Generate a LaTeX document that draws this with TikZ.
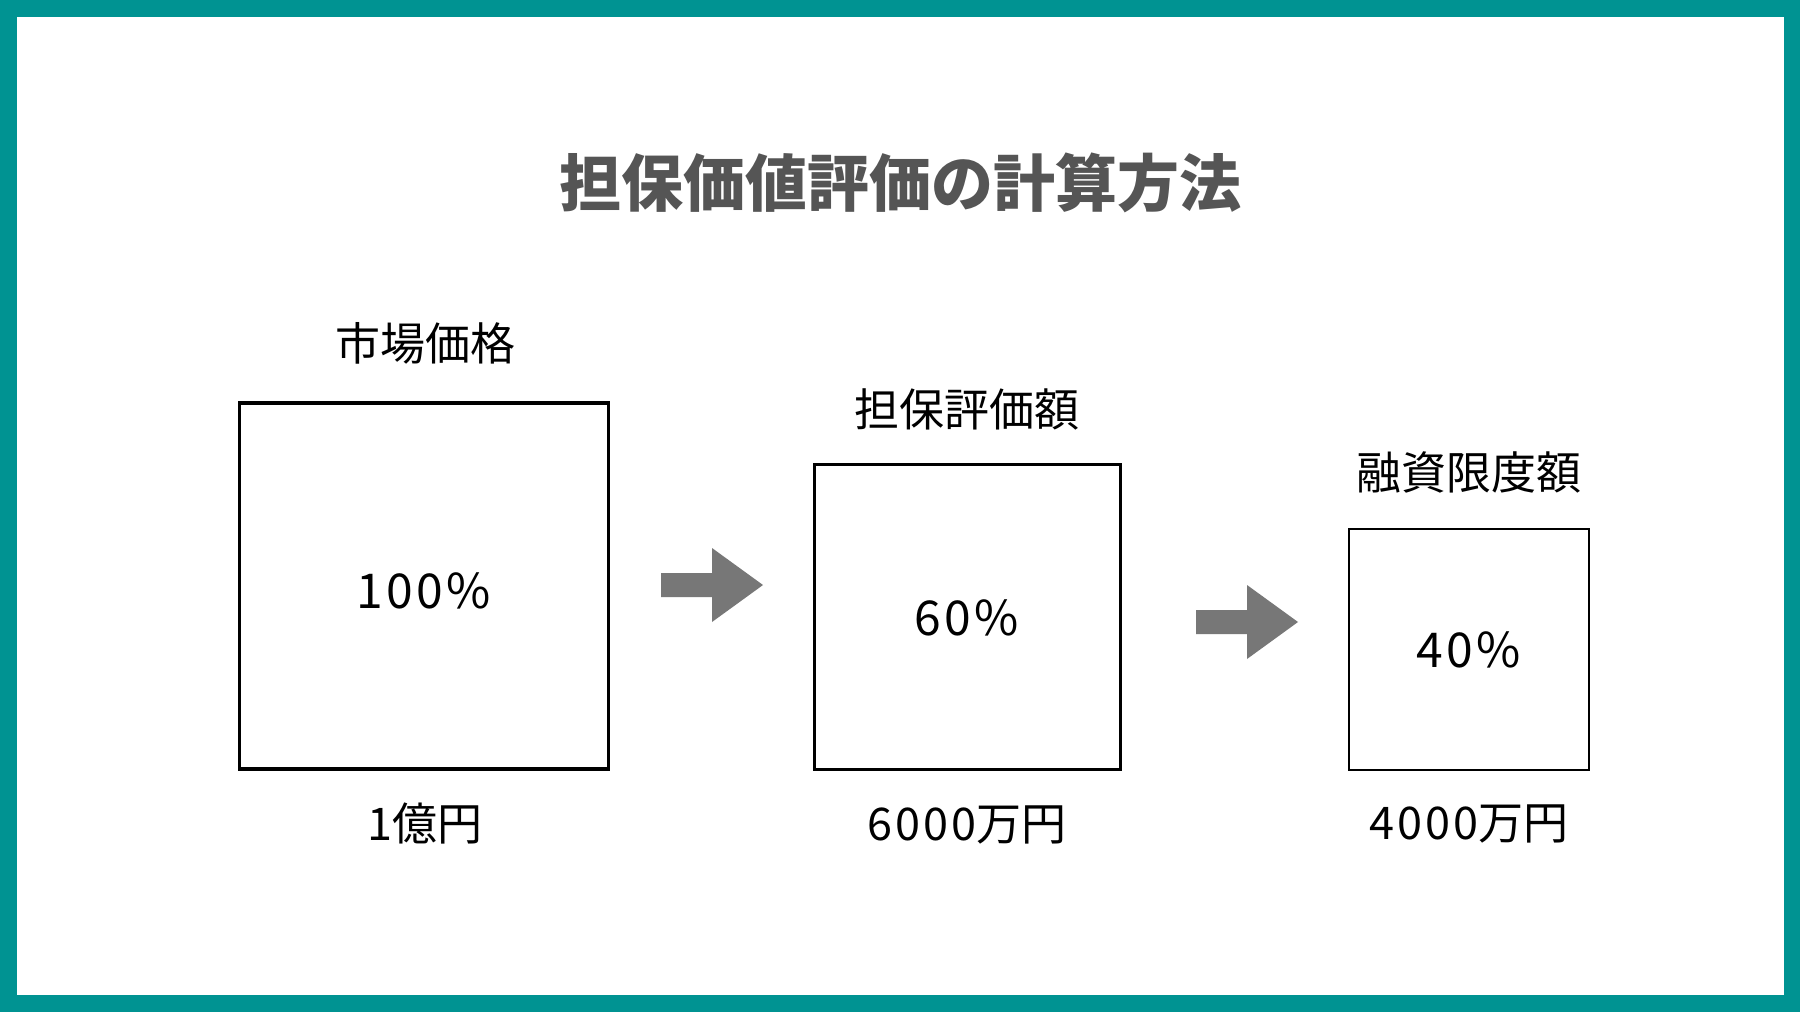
\documentclass[tikz,border=0pt]{standalone}
\usepackage{fontspec}
\setmainfont{Noto Sans CJK JP}
\definecolor{frameteal}{RGB}{0,147,146}
\definecolor{arrowgray}{RGB}{119,119,119}
\definecolor{titlegray}{RGB}{85,85,85}
\newcommand{\spaced}[1]{{\addfontfeature{LetterSpace=7}#1}}
\tikzset{
  lbl/.style={inner sep=0pt, text height=34pt, text depth=0pt, anchor=center, font=\fontsize{45}{54}\selectfont},
  valbox/.style={draw=black, fill=white, inner sep=0pt, text height=36pt, text depth=0pt, font=\fontsize{48}{58}\selectfont},
  pics/barrow/.style={code={\fill[arrowgray] (0,-12) -- (51,-12) -- (51,-37) -- (102,0) -- (51,37) -- (51,12) -- (0,12) -- cycle;}}
}
\begin{document}
\begin{tikzpicture}[x=1pt,y=-1pt]
\useasboundingbox (0,0) rectangle (1800,1012);
\fill[frameteal] (0,0) rectangle (1800,1012);
\fill[white] (17,17) rectangle (1784,995);
\node[lbl, text=titlegray, text height=46pt, font=\fontsize{62}{72}\selectfont\bfseries] (title) at (900,183) {担保価値評価の計算方法};
% boxes
\node[valbox, line width=3.5pt, minimum width=369pt, minimum height=366pt, text height=44pt] (b1) at (424,586) {\spaced{100\%}};
\node[valbox, line width=3pt, minimum width=306pt, minimum height=305pt] (b2) at (967,617) {\spaced{60\%}};
\node[valbox, line width=2.5pt, minimum width=240pt, minimum height=241pt] (b3) at (1469,649.5) {\spaced{40\%}};
% top labels
\node[lbl] (t1) at (425,343) {市場価格};
\node[lbl] (t2) at (967,409) {担保評価額};
\node[lbl] (t3) at (1469,472) {融資限度額};
% bottom labels
\node[lbl] (u1) at (425,823) {\spaced{1}億円};
\node[lbl] (u2) at (967,823) {\spaced{6000}万円};
\node[lbl] (u3) at (1469,822) {\spaced{4000}万円};
% arrows
\pic at (661,585) {barrow};
\pic at (1196,622) {barrow};
\end{tikzpicture}
\end{document}
